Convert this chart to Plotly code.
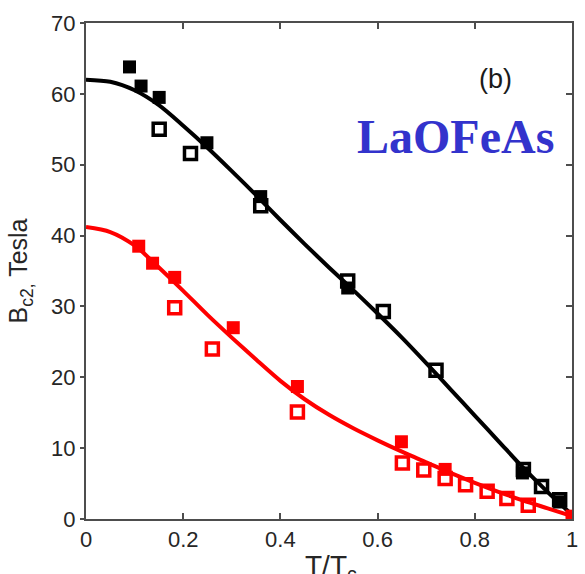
import plotly.graph_objects as go

# ---- data ----
# black: filled squares
bk_fill_x = [0.0895, 0.1133, 0.1506, 0.2488, 0.3595, 0.5385, 0.898, 0.9746]
bk_fill_y = [63.8, 61.1, 59.5, 53.1, 45.5, 32.6, 6.5, 2.4]
# black: open squares
bk_open_x = [0.1506, 0.215, 0.3595, 0.5385, 0.6118, 0.7202, 0.900, 0.9373, 0.9746]
bk_open_y = [55.0, 51.6, 44.2, 33.6, 29.3, 21.0, 7.0, 4.6, 2.7]
# red: filled squares
rd_fill_x = [0.1085, 0.137, 0.1825, 0.303, 0.435, 0.649, 0.739, 1.0]
rd_fill_y = [38.5, 36.1, 34.1, 27.0, 18.7, 10.9, 7.0, 0.4]
# red: open squares
rd_open_x = [0.1825, 0.260, 0.435, 0.651, 0.695, 0.739, 0.781, 0.8254, 0.866, 0.910]
rd_open_y = [29.8, 24.0, 15.1, 7.9, 6.9, 5.7, 4.85, 3.9, 2.9, 1.94]
# fit curves
fit_x = [0.0, 0.05, 0.1, 0.15, 0.2, 0.25, 0.3, 0.35, 0.4, 0.45, 0.5,
         0.55, 0.6, 0.65, 0.7, 0.75, 0.8, 0.85, 0.9, 0.95, 1.0]
bk_fit_y = [62.0, 61.7, 60.5, 58.4, 55.5, 52.4, 49.1, 45.7, 42.2, 38.8, 35.5,
            32.3, 29.0, 25.6, 22.0, 18.3, 14.6, 10.9, 7.2, 3.8, 0.6]
rd_fit_y = [41.2, 40.5, 38.6, 35.5, 32.2, 28.8, 25.6, 22.5, 19.5, 16.9, 14.7,
            12.8, 11.1, 9.5, 8.0, 6.5, 5.1, 3.8, 2.6, 1.5, 0.4]

x_ticks = [0, 0.2, 0.4, 0.6, 0.8, 1]
x_ticklabels = ["0", "0.2", "0.4", "0.6", "0.8", "1"]
y_ticks = [0, 10, 20, 30, 40, 50, 60, 70]

BLACK = "#000000"
RED = "#ff0000"
AX = "#4d4d4d"
MS = 13

fig = go.Figure()
fig.add_trace(go.Scatter(x=fit_x, y=bk_fit_y, mode="lines",
                         line=dict(color=BLACK, width=4, shape="spline", smoothing=0.8), showlegend=False))
fig.add_trace(go.Scatter(x=fit_x, y=rd_fit_y, mode="lines",
                         line=dict(color=RED, width=4, shape="spline", smoothing=0.8), showlegend=False))
fig.add_trace(go.Scatter(x=bk_fill_x, y=bk_fill_y, mode="markers",
                         marker=dict(symbol="square", size=MS, color=BLACK, line=dict(width=0)), showlegend=False))
fig.add_trace(go.Scatter(x=bk_open_x, y=bk_open_y, mode="markers",
                         marker=dict(symbol="square-open", size=MS - 1, color=BLACK, line=dict(width=3.5, color=BLACK)), showlegend=False))
fig.add_trace(go.Scatter(x=rd_fill_x, y=rd_fill_y, mode="markers",
                         marker=dict(symbol="square", size=MS, color=RED, line=dict(width=0)), showlegend=False))
fig.add_trace(go.Scatter(x=rd_open_x, y=rd_open_y, mode="markers",
                         marker=dict(symbol="square-open", size=MS - 1, color=RED, line=dict(width=3.5, color=RED)), showlegend=False))
# invisible trace to bind the right-hand tick axis
fig.add_trace(go.Scatter(x=fit_x, y=bk_fit_y, mode="lines", line=dict(width=0), opacity=0,
                         yaxis="y2", showlegend=False, hoverinfo="skip"))

tickfont = dict(family="Liberation Sans, Arial, sans-serif", size=22, color="#262626")

fig.update_layout(
    width=585, height=574,
    margin=dict(l=86, r=7, t=23, b=55),
    paper_bgcolor="white", plot_bgcolor="white",
    xaxis=dict(range=[0, 1], tickvals=x_ticks, ticktext=x_ticklabels, ticks="inside", ticklen=6,
               tickwidth=1.5, tickcolor=AX, showline=True, linecolor=AX, linewidth=2, mirror="ticks",
               showgrid=False, zeroline=False, tickfont=tickfont),
    yaxis=dict(range=[0, 70], tickvals=y_ticks, ticks="outside", ticklen=4, tickwidth=1.5, tickcolor=AX,
               showline=True, linecolor=AX, linewidth=2, mirror=True, showgrid=False, zeroline=False,
               tickfont=tickfont),
    yaxis2=dict(range=[0, 70], tickvals=y_ticks, overlaying="y", side="right", ticks="inside", ticklen=6,
                tickwidth=1.5, tickcolor=AX, showticklabels=False, showline=False, showgrid=False,
                zeroline=False),
    annotations=[
        dict(text="B<sub>c2,</sub> Tesla", textangle=-90, xref="paper", yref="paper", x=-0.135, y=0.5,
             xanchor="center", yanchor="middle", showarrow=False,
             font=dict(family="Liberation Sans, Arial, sans-serif", size=25, color="#262626")),
        dict(text="T/T<sub>c</sub>", xref="paper", yref="paper", x=0.505, y=-0.058,
             xanchor="center", yanchor="top", showarrow=False,
             font=dict(family="Liberation Sans, Arial, sans-serif", size=28, color="#262626")),
        dict(text="(b)", xref="paper", yref="paper", x=0.843, y=0.888, xanchor="center", yanchor="middle",
             showarrow=False, font=dict(family="Liberation Sans, Arial, sans-serif", size=27, color="#1a1a1a")),
        dict(text="<b>LaOFeAs</b>", xref="paper", yref="paper", x=0.76, y=0.772, xanchor="center",
             yanchor="middle", showarrow=False,
             font=dict(family="Liberation Serif, Times New Roman, serif", size=48, color="#3333cc")),
    ],
)

fig.write_html("out.html")
